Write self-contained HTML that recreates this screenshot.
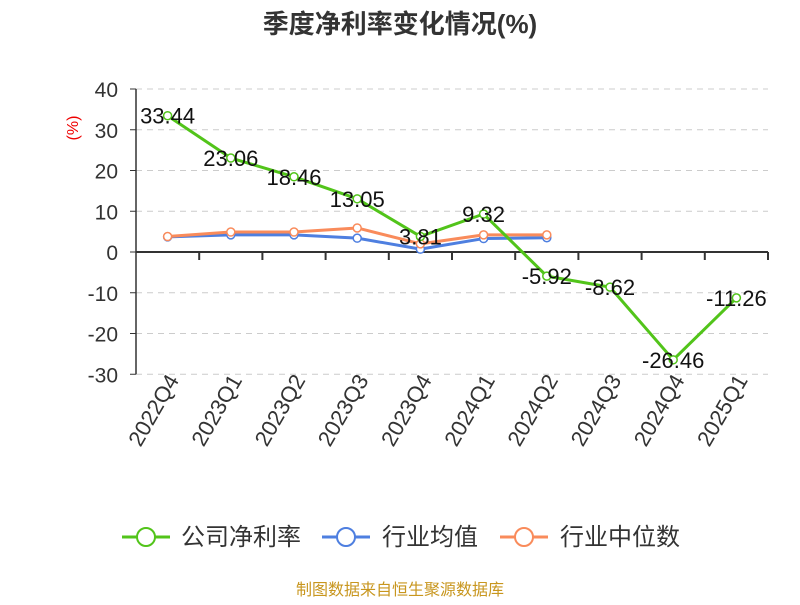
<!DOCTYPE html>
<html><head><meta charset="utf-8"><style>
body{margin:0;background:#fff;font-family:"Liberation Sans","Noto Sans CJK SC",sans-serif}
</style></head><body>
<svg id="c" width="800" height="600" xmlns="http://www.w3.org/2000/svg" font-family="Liberation Sans, Noto Sans CJK SC, sans-serif">
<text x="400" y="33" text-anchor="middle" font-size="26" font-weight="bold" fill="#333">季度净利率变化情况(%)</text>
<text x="78" y="128" text-anchor="middle" font-size="16" fill="#e00" transform="rotate(-90 78 128)">(%)</text>
<g id="grid"></g><g id="axes"></g><g id="series"></g>
<g font-size="24" fill="#333">
<g><line x1="122" y1="537" x2="170" y2="537" stroke="#52c41a" stroke-width="3"/><circle cx="146" cy="537" r="9" fill="#fff" stroke="#52c41a" stroke-width="2"/><text x="181" y="545">公司净利率</text></g>
<g><line x1="322" y1="537" x2="370" y2="537" stroke="#4e7fe0" stroke-width="3"/><circle cx="346" cy="537" r="9" fill="#fff" stroke="#4e7fe0" stroke-width="2"/><text x="382" y="545">行业均值</text></g>
<g><line x1="500" y1="537" x2="548" y2="537" stroke="#f98b5b" stroke-width="3"/><circle cx="524" cy="537" r="9" fill="#fff" stroke="#f98b5b" stroke-width="2"/><text x="560" y="545">行业中位数</text></g>
</g>
<text x="400" y="595" text-anchor="middle" font-size="16" fill="#c8961e">制图数据来自恒生聚源数据库</text>
</svg>
<script>
const categories=["2022Q4","2023Q1","2023Q2","2023Q3","2023Q4","2024Q1","2024Q2","2024Q3","2024Q4","2025Q1"];
const companyValues=[33.44,23.06,18.46,13.05,3.81,9.32,-5.92,-8.62,-26.46,-11.26];
const industryAvg=[3.7,4.2,4.2,3.4,0.7,3.3,3.5];
const industryMedian=[3.8,4.9,4.9,5.9,2.0,4.2,4.2];
const yTicks=[40,30,20,10,0,-10,-20,-30];
const NS="http://www.w3.org/2000/svg";
const x0=136,x1=768,band=(x1-x0)/categories.length;
const X=i=>x0+band*(i+0.5);
const Y=v=>252-v*4.075;
function mk(p,t,a){const e=document.createElementNS(NS,t);for(const k in a)e.setAttribute(k,a[k]);p.appendChild(e);return e;}
const grid=document.getElementById('grid'),axes=document.getElementById('axes'),ser=document.getElementById('series');
yTicks.forEach(v=>{
 if(v!==0){const g=mk(grid,'line',{x1:x0,x2:x1,y1:Y(v),y2:Y(v),stroke:'#ccc','stroke-dasharray':'6,5'});
 
 }
 const t=mk(axes,'text',{x:118,y:Y(v)+8,'text-anchor':'end','font-size':21,fill:'#333'});t.textContent=v;
 
 
 const tk=mk(axes,'line',{x1:x0-6,x2:x0,y1:Y(v),y2:Y(v),stroke:'#333'});
 
 
});
const ya=mk(axes,'line',{x1:x0,x2:x0,y1:Y(40),y2:Y(-30),stroke:'#333','stroke-width':1.5});


const xa=mk(axes,'line',{x1:x0,x2:x1,y1:Y(0),y2:Y(0),stroke:'#333','stroke-width':2});


categories.forEach((c,i)=>{
 const tk=mk(axes,'line',{x1:x0+band*(i+1),x2:x0+band*(i+1),y1:Y(0),y2:Y(0)+8,stroke:'#333','stroke-width':2});
 
 
 const t=mk(axes,'text',{x:X(i)+12,y:380,'text-anchor':'end','font-size':22,fill:'#333',transform:`rotate(-60 ${X(i)+12} 380)`});t.textContent=c;
 
 
});
function series(vals,color,name,labels){
 const pl=mk(ser,'polyline',{points:vals.map((v,i)=>X(i)+','+Y(v)).join(' '),fill:'none',stroke:color,'stroke-width':3,'stroke-linejoin':'round'});
 
 
 vals.forEach((v,i)=>{const c=mk(ser,'circle',{cx:X(i),cy:Y(v),r:4,fill:'#fff',stroke:color,'stroke-width':1.5});
 
 
 if(labels){const t=mk(ser,'text',{x:X(i),y:Y(v)+8,'text-anchor':'middle','font-size':22,fill:'#111'});t.textContent=v.toFixed(2);
 
 }});
}
series(industryAvg,'#4e7fe0','industry-avg',false);
series(industryMedian,'#f98b5b','industry-median',false);
series(companyValues,'#52c41a','company',true);
</script>
</body></html>
